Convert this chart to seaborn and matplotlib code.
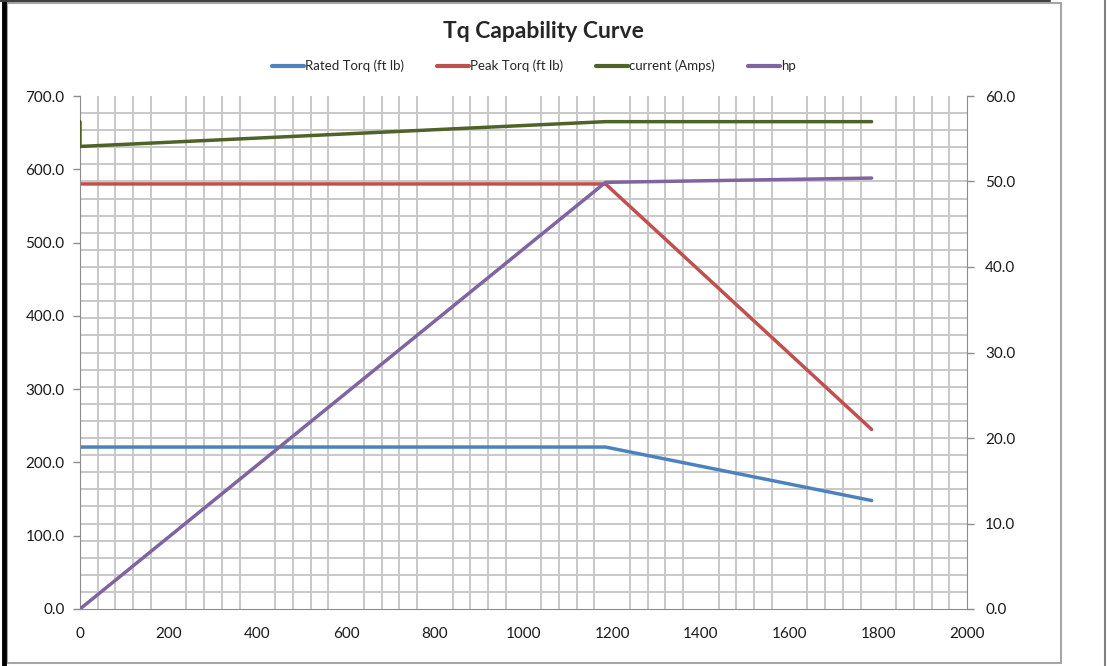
import matplotlib
matplotlib.use('Agg')
import matplotlib.pyplot as plt
import seaborn as sns
import pandas as pd
from matplotlib.ticker import MultipleLocator, FixedLocator, FormatStrFormatter
from matplotlib.lines import Line2D
from matplotlib.patches import Rectangle

# motor speed (rpm) break points
speed = [0, 1185, 1785]
rated_torq = [221.0, 221.0, 148.0]
peak_torq = [580.0, 580.0, 245.0]
hp = [0.0, 49.9, 50.4]

current_speed = [0, 0, 1185, 1785]
current_amps = [57.0, 54.1, 57.0, 57.0]

labels = ['Rated Torq (ft lb)', 'Peak Torq (ft lb)', 'current (Amps)', 'hp']
colors = ['#4F81BD', '#C0504D', '#4F6228', '#8064A2']

sns.set_style('white')
plt.rcParams['font.family'] = ['Lato', 'DejaVu Sans']

fig = plt.figure(figsize=(11.07, 6.66), dpi=100)
ax = fig.add_axes([80 / 1107, 1 - 609 / 666, (967 - 80) / 1107, (609 - 96) / 666])
ax2 = ax.twinx()

torq_df = pd.DataFrame({'speed': speed, 'rated': rated_torq, 'peak': peak_torq, 'hp': hp})
cur_df = pd.DataFrame({'speed': current_speed, 'amps': current_amps})

lw = 2.5
sns.lineplot(data=torq_df, x='speed', y='rated', ax=ax, color=colors[0], lw=lw,
             estimator=None, sort=False)
sns.lineplot(data=torq_df, x='speed', y='peak', ax=ax, color=colors[1], lw=lw,
             estimator=None, sort=False)
sns.lineplot(data=cur_df, x='speed', y='amps', ax=ax2, color=colors[2], lw=lw,
             estimator=None, sort=False)
sns.lineplot(data=torq_df, x='speed', y='hp', ax=ax2, color=colors[3], lw=lw,
             estimator=None, sort=False)

ax.set_xlim(0, 2000)
ax.set_ylim(0, 700)
ax2.set_ylim(0, 60)

grid_c = '#C8C8C8'
spine_c = '#8C8C8C'

ax.xaxis.set_major_locator(MultipleLocator(200))
ax.xaxis.set_minor_locator(MultipleLocator(40))
ax.yaxis.set_major_locator(MultipleLocator(100))
# horizontal grid follows the secondary axis (every 2 units)
ax.yaxis.set_minor_locator(FixedLocator([k * 700 / 30 for k in range(31)]))
ax.yaxis.set_major_formatter(FormatStrFormatter('%.1f'))
ax2.yaxis.set_major_locator(MultipleLocator(10))
ax2.yaxis.set_major_formatter(FormatStrFormatter('%.1f'))

ax.grid(False)
ax.grid(True, which='minor', axis='both', color=grid_c, lw=1.4)
ax.set_axisbelow(True)
ax2.grid(False)

for a in (ax, ax2):
    a.set_xlabel('')
    a.set_ylabel('')
    for s in a.spines.values():
        s.set_visible(False)
    a.tick_params(which='major', direction='out', length=5, width=1, color=spine_c,
                  labelsize=11, labelcolor='#1a1a1a')
    a.tick_params(which='minor', length=0)
ax.tick_params(axis='x', pad=8)
ax.tick_params(axis='y', pad=6)
ax2.tick_params(axis='y', pad=8)
ax.spines['left'].set_visible(True)
ax.spines['bottom'].set_visible(True)
ax2.spines['right'].set_visible(True)
ax.spines['left'].set_color(spine_c)
ax.spines['bottom'].set_color(spine_c)
ax2.spines['right'].set_color(spine_c)

fig.text(543 / 1107, 1 - 32 / 666, 'Tq Capability Curve', ha='center', va='center',
         fontsize=16.5, fontweight='bold')

handles = [Line2D([], [], color=c, lw=3) for c in colors]
fig.legend(handles, labels, loc='center', bbox_to_anchor=(534 / 1107, 1 - 66 / 666),
           ncol=4, frameon=False, fontsize=9.5, handlelength=2.4, handletextpad=0.1,
           columnspacing=2.5)

# chart frame
fig.patches.append(Rectangle((7 / 1107, 3 / 666), (1061 - 7) / 1107, (663 - 3) / 666,
                             transform=fig.transFigure, fill=False, ec='#A6A6A6', lw=1.5))
fig.lines.append(Line2D([4 / 1107, 4 / 1107], [0, 1], transform=fig.transFigure,
                        color='black', lw=3.5))
fig.lines.append(Line2D([1105 / 1107, 1105 / 1107], [0, 1], transform=fig.transFigure,
                        color='#808080', lw=1.5))
fig.lines.append(Line2D([0, 1050 / 1107], [1 - 1 / 666, 1 - 1 / 666], transform=fig.transFigure,
                        color='#404040', lw=1.5))

fig.savefig('out.png', dpi=100)
